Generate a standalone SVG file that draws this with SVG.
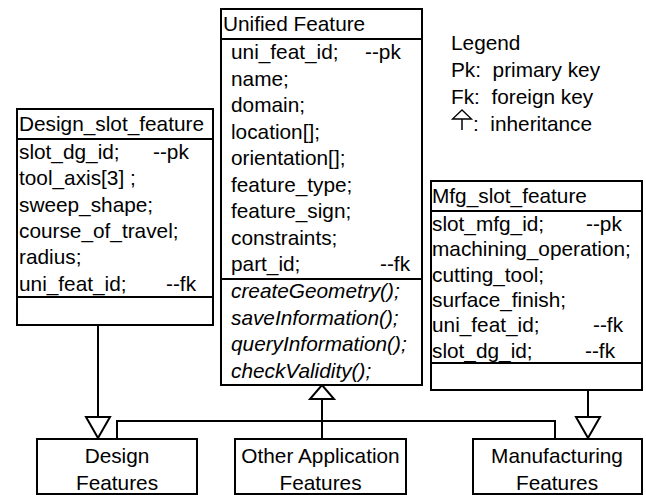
<svg xmlns="http://www.w3.org/2000/svg" width="646" height="495" viewBox="0 0 646 495">
<style>
text{font-family:"Liberation Sans",Arial,sans-serif;font-size:20.8px;fill:#000}
.it{font-style:italic}
.pre{white-space:pre}
.box{fill:#fff;stroke:#000;stroke-width:2}
.ln{fill:none;stroke:#000;stroke-width:2}
.tri{fill:#fff;stroke:#000;stroke-width:2;stroke-linejoin:miter}
.mid{text-anchor:middle}
</style>
<rect width="646" height="495" fill="#fff"/>

<g id="connectors">
  <line class="ln" x1="98" y1="325" x2="98" y2="417"/>
  <polygon class="tri" points="86,417 110,417 98,438"/>
  <line class="ln" x1="322" y1="399" x2="322" y2="439"/>
  <polyline class="ln" points="117,439 117,421 555,421 555,439"/>
  <polygon class="tri" points="310,399 334,399 322,385"/>
  <line class="ln" x1="588" y1="390" x2="588" y2="417"/>
  <polygon class="tri" points="576,417 600,417 588,438"/>
</g>

<g id="unified_feature">
  <rect class="box" x="221" y="9" width="201" height="376"/>
  <line class="ln" x1="221" y1="39" x2="422" y2="39"/>
  <line class="ln" x1="221" y1="279" x2="422" y2="279"/>
  <text x="223" y="31">Unified Feature</text>
  <text x="231" y="59">uni_feat_id;</text><text x="365" y="59">--pk</text>
  <text x="231" y="85.5">name;</text>
  <text x="231" y="112">domain;</text>
  <text x="231" y="138.5">location[];</text>
  <text x="231" y="165">orientation[];</text>
  <text x="231" y="191.5">feature_type;</text>
  <text x="231" y="218">feature_sign;</text>
  <text x="231" y="244.5">constraints;</text>
  <text x="231" y="271">part_id;</text><text x="380" y="271">--fk</text>
  <text class="it" x="231" y="298">createGeometry();</text>
  <text class="it" x="231" y="324.5">saveInformation();</text>
  <text class="it" x="231" y="351">queryInformation();</text>
  <text class="it" x="231" y="377.5">checkValidity();</text>
</g>

<g id="legend">
  <text x="451" y="50">Legend</text>
  <text class="pre" x="451" y="77">Pk:  primary key</text>
  <text class="pre" x="451" y="104">Fk:  foreign key</text>
  <polygon class="ln" style="stroke-width:1.3" points="452.5,119 471.5,119 462,110"/>
  <line class="ln" style="stroke-width:1.5" x1="462" y1="119" x2="462" y2="130"/>
  <text class="pre" x="473" y="130.5">:  inheritance</text>
</g>

<g id="design_slot_feature">
  <rect class="box" x="17" y="109" width="196" height="216"/>
  <line class="ln" x1="17" y1="139" x2="213" y2="139"/>
  <line class="ln" x1="17" y1="297" x2="213" y2="297"/>
  <text x="19" y="131">Design_slot_feature</text>
  <text x="19" y="159">slot_dg_id;</text><text x="153" y="159">--pk</text>
  <text x="19" y="185.3">tool_axis[3] ;</text>
  <text x="19" y="211.6">sweep_shape;</text>
  <text x="19" y="238">course_of_travel;</text>
  <text x="19" y="264.3">radius;</text>
  <text x="19" y="290.5">uni_feat_id;</text><text x="166" y="290.5">--fk</text>
</g>

<g id="mfg_slot_feature">
  <rect class="box" x="431" y="181" width="211" height="209"/>
  <line class="ln" x1="431" y1="211" x2="642" y2="211"/>
  <line class="ln" x1="431" y1="363" x2="642" y2="363"/>
  <text x="432" y="203">Mfg_slot_feature</text>
  <text x="432" y="231">slot_mfg_id;</text><text x="586" y="231">--pk</text>
  <text x="432" y="256.3">machining_operation;</text>
  <text x="432" y="281.6">cutting_tool;</text>
  <text x="432" y="306.9">surface_finish;</text>
  <text x="432" y="332.2">uni_feat_id;</text><text x="593" y="332.2">--fk</text>
  <text x="432" y="357.5">slot_dg_id;</text><text x="585" y="357.5">--fk</text>
</g>

<g id="design_features">
  <rect class="box" x="37" y="439" width="160" height="55"/>
  <text class="mid" x="117" y="463">Design</text>
  <text class="mid" x="117" y="490">Features</text>
</g>

<g id="other_application_features">
  <rect class="box" x="235" y="439" width="171" height="55"/>
  <text class="mid" x="320.5" y="463">Other Application</text>
  <text class="mid" x="320.5" y="490">Features</text>
</g>

<g id="manufacturing_features">
  <rect class="box" x="473" y="439" width="169" height="55"/>
  <text class="mid" x="557" y="463">Manufacturing</text>
  <text class="mid" x="557" y="490">Features</text>
</g>
</svg>
